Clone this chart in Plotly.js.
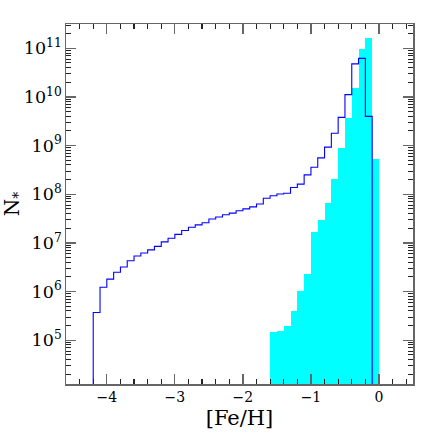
<!DOCTYPE html>
<html>
<head>
<meta charset="utf-8">
<script src="https://cdn.plot.ly/plotly-3.0.1.min.js"></script>
<style>html,body{margin:0;padding:0;background:#fff;}#chart{width:436px;height:436px;}</style>
</head>
<body>
<div id="chart"></div>
<script>
// [Fe/H] bin left edges (bin width 0.1 dex)
const blueBinLeft = [-4.2,-4.1,-4.0,-3.9,-3.8,-3.7,-3.6,-3.5,-3.4,-3.3,-3.2,-3.1,-3.0,-2.9,-2.8,-2.7,-2.6,-2.5,-2.4,-2.3,-2.2,-2.1,-2.0,-1.9,-1.8,-1.7,-1.6,-1.5,-1.4,-1.3,-1.2,-1.1,-1.0,-0.9,-0.8,-0.7,-0.6,-0.5,-0.4,-0.3,-0.2];
const blueCounts = [3.7e5,1.23e6,1.8e6,2.5e6,3.2e6,4.3e6,5.4e6,6.2e6,7.2e6,8.5e6,1.05e7,1.25e7,1.5e7,1.8e7,2.1e7,2.35e7,2.6e7,3.1e7,3.4e7,3.8e7,4.1e7,4.6e7,5.0e7,5.5e7,6.3e7,8.3e7,9.3e7,1.01e8,1.05e8,1.38e8,1.62e8,2.5e8,3.6e8,5.6e8,9.3e8,1.8e9,3.8e9,1.12e10,4.8e10,6.2e10,4.0e9];
const cyanBinLeft = [-1.6,-1.5,-1.4,-1.3,-1.2,-1.1,-1.0,-0.9,-0.8,-0.7,-0.6,-0.5,-0.4,-0.3,-0.2,-0.1];
const cyanCounts = [1.45e5,1.55e5,2.0e5,4.0e5,1.05e6,2.3e6,1.66e7,2.9e7,6.6e7,2.1e8,8.9e8,3.7e9,1.5e10,9.5e10,1.6e11,5.4e8];
const binWidth = 0.1;
const xTickVals = [-4,-3,-2,-1,0];
const xTickText = ['\u22124','\u22123','\u22122','\u22121','0'];

// build the step outline (from below axis up, across bins, back down)
const floorVal = 1;
const stepX = [blueBinLeft[0]];
const stepY = [floorVal];
for (let i = 0; i < blueBinLeft.length; i++) { stepX.push(blueBinLeft[i]); stepY.push(blueCounts[i]); }
const lastRight = Math.round((blueBinLeft[blueBinLeft.length-1] + binWidth)*10)/10;
stepX.push(lastRight); stepY.push(floorVal);

const serif = '"DejaVu Serif", "Liberation Serif", serif';
const axisColor = '#666';

const traces = [
  {type:'bar', x: cyanBinLeft, y: cyanCounts, width: binWidth, offset: 0,
   marker:{color:'#00ffff', line:{width:0}}, hoverinfo:'skip', showlegend:false},
  {type:'scatter', mode:'lines', x: stepX, y: stepY, line:{shape:'hv', color:'#0000ff', width:1.1},
   hoverinfo:'skip', showlegend:false}
];

const layout = {
  width: 436, height: 436,
  margin: {l:66, r:23, t:24, b:52},
  paper_bgcolor:'#fff', plot_bgcolor:'#fff',
  bargap: 0,
  font: {family: serif, color:'#000', size:14},
  xaxis: {
    range:[-4.6, 0.5], tickvals: xTickVals, ticktext: xTickText,
    ticks:'inside', ticklen:10, tickwidth:1.2, tickcolor:axisColor,
    minor:{dtick:0.2, tick0:0, ticks:'inside', ticklen:5, tickwidth:1.2, tickcolor:'#222', showgrid:false},
    showline:true, linecolor:axisColor, linewidth:1.5, mirror:'allticks',
    showgrid:false, zeroline:false,
    tickfont:{family:serif, size:14},
    title:{text:'[Fe/H]', font:{family:serif, size:21}, standoff:6}
  },
  yaxis: {
    type:'log', range:[4.1, 11.5], dtick:1, exponentformat:'power',
    ticks:'inside', ticklen:10, tickwidth:1.2, tickcolor:axisColor,
    minor:{ticks:'inside', ticklen:5, tickwidth:1, tickcolor:'#222', showgrid:false},
    showline:true, linecolor:axisColor, linewidth:1.5, mirror:'allticks',
    showgrid:false, zeroline:false,
    tickfont:{family:serif, size:14},
    title:{text:'N<sub>*</sub>', font:{family:serif, size:20}, standoff:6}
  }
};

Plotly.newPlot('chart', traces, layout, {staticPlot:true, displayModeBar:false});
</script>
</body>
</html>
